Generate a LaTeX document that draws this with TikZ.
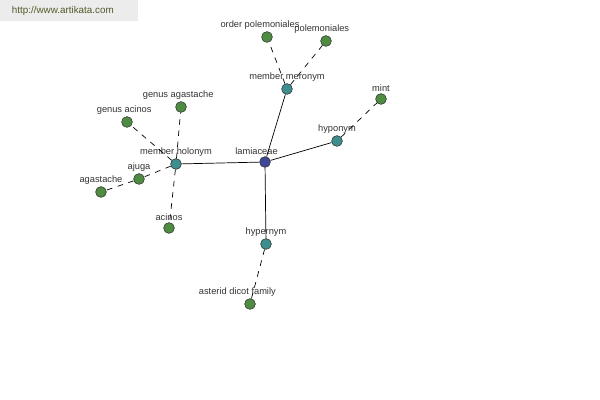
\documentclass[tikz,border=0pt]{standalone}
\usepackage{fontspec}
\setmainfont{Liberation Sans}
\definecolor{leafgreen}{RGB}{78,140,66}
\definecolor{linkteal}{RGB}{62,142,142}
\definecolor{rootblue}{RGB}{62,72,150}
\definecolor{urlgray}{RGB}{236,236,236}
\definecolor{urltext}{RGB}{80,90,40}

\begin{document}
\begin{tikzpicture}[x=0.025cm,y=-0.025cm,
	every label/.style={font=\fontsize{6.6}{7}\selectfont,text=black!80,inner sep=1pt},
	dot/.style={circle,draw=black!80,inner sep=0pt,minimum size=0.27cm,line width=0.4pt},
	leaf/.style={dot,fill=leafgreen},
	link/.style={dot,fill=linkteal},
	root/.style={dot,fill=rootblue},
	solidedge/.style={black,line width=0.5pt},
	dashedge/.style={black,dashed,dash pattern=on 4pt off 4pt,line width=0.5pt}]
		\useasboundingbox (0,0) rectangle (600,400);
		\fill[urlgray] (0,0) rectangle (138,21);
		\node[font=\fontsize{7}{8}\selectfont,text=urltext,anchor=west] (url) at (7,11) {http://www.artikata.com};
		
		\node[root, label={[xshift=-6pt]above:lamiaceae}] (lam) at (265,162) {};
		\node[link, label=above:member holonym] (hol) at (176,164) {};
		\node[link, label=above:member meronym] (mer) at (287,89) {};
		\node[link, label=above:hyponym] (hypo) at (337,141) {};
		\node[link, label=above:hypernym] (hyper) at (266,244) {};
		
		\node[leaf, label={[xshift=-5pt]above:order polemoniales}] (ordpol) at (267,37) {};
		\node[leaf, label={[xshift=-3pt]above:polemoniales}] (pol) at (326,41) {};
		\node[leaf, label=above:mint] (mint) at (381,99) {};
		\node[leaf, label={[xshift=-2pt]above:genus agastache}] (gagast) at (181,107) {};
		\node[leaf, label={[xshift=-2pt]above:genus acinos}] (gacin) at (127,122) {};
		\node[leaf, label=above:ajuga] (ajuga) at (139,179) {};
		\node[leaf, label=above:agastache] (agast) at (101,192) {};
		\node[leaf, label=above:acinos] (acin) at (169,228) {};
		\node[leaf, label={[xshift=-9pt]above:asterid dicot family}] (aster) at (250,304) {};
		
		\draw[solidedge] (lam) -- (hol);
		\draw[solidedge] (lam) -- (mer);
		\draw[solidedge] (lam) -- (hypo);
		\draw[solidedge] (lam) -- (hyper);
		
		\draw[dashedge] (mer) -- (ordpol);
		\draw[dashedge] (mer) -- (pol);
		\draw[dashedge] (hypo) -- (mint);
		\draw[dashedge] (hyper) -- (aster);
		
		\draw[dashedge] (hol) -- (gagast);
		\draw[dashedge] (hol) -- (gacin);
		\draw[dashedge] (hol) -- (ajuga);
		\draw[dashedge] (ajuga) -- (agast);
		\draw[dashedge] (hol) -- (acin);
\end{tikzpicture}
\end{document}
